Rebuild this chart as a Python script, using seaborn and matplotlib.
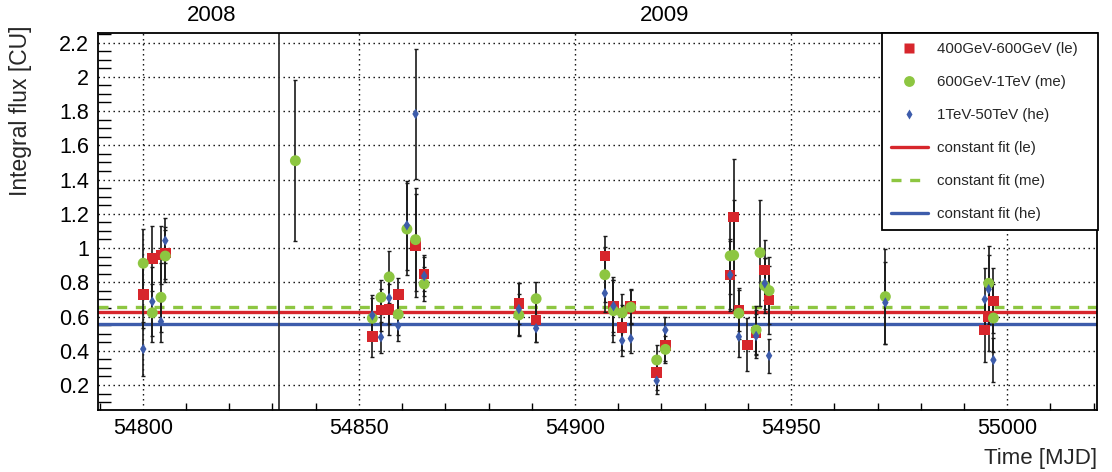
import numpy as np
import pandas as pd
import matplotlib
matplotlib.use("Agg")
import matplotlib.pyplot as plt
from matplotlib.lines import Line2D
from matplotlib.ticker import MultipleLocator, FuncFormatter
import seaborn as sns

nan = np.nan

# ---------------- data ----------------
mjd = [54800.1, 54802.2, 54804.2, 54805.2, 54835.3, 54853.1, 54855.1, 54857.0,
       54859.1, 54861.1, 54863.1, 54865.1, 54887.0, 54891.0, 54906.9, 54908.9,
       54910.9, 54912.9, 54918.9, 54920.9, 54935.9, 54936.7, 54937.9, 54939.9,
       54941.9, 54942.8, 54943.9, 54944.9, 54971.8, 54994.8, 54995.7, 54996.8]

flux_le = [0.730, 0.940, 0.960, 0.970, nan, 0.482, 0.638, 0.642,
           0.727, nan, 1.016, 0.848, 0.677, 0.580, 0.953, 0.661,
           0.537, 0.661, 0.272, 0.430, 0.843, 1.180, 0.634, 0.434,
           0.506, nan, 0.872, 0.696, nan, 0.521, 0.599, 0.691]
err_le = [0.20, 0.19, 0.17, 0.15, nan, 0.12, 0.12, 0.15,
          0.10, nan, 0.30, 0.10, 0.12, 0.13, 0.12, 0.17,
          0.13, 0.10, 0.10, 0.09, 0.21, 0.34, 0.12, 0.155,
          0.13, nan, 0.177, 0.20, nan, 0.185, 0.20, 0.19]

flux_me = [0.911, 0.622, 0.712, 0.953, 1.510, 0.590, 0.712, 0.831,
           0.613, 1.111, 1.049, 0.790, 0.609, 0.704, 0.844, 0.634,
           0.622, 0.654, 0.346, 0.408, 0.954, 0.958, 0.619, nan,
           0.521, 0.973, 0.780, 0.751, 0.716, nan, 0.794, 0.591]
err_me = [0.20, 0.17, 0.20, 0.15, 0.47, 0.12, 0.10, 0.15,
          0.12, 0.27, 0.30, 0.10, 0.12, 0.10, 0.16, 0.18,
          0.11, 0.10, 0.09, 0.08, 0.22, 0.32, 0.15, nan,
          0.14, 0.31, 0.16, 0.195, 0.278, nan, 0.218, 0.20]

flux_he = [0.410, 0.687, 0.570, 1.043, nan, 0.607, 0.479, 0.708,
           0.546, 1.133, 1.783, 0.837, 0.644, 0.531, 0.736, 0.661,
           0.459, 0.471, 0.225, 0.521, 0.843, nan, 0.482, nan,
           0.486, nan, 0.794, 0.371, 0.681, 0.700, 0.759, 0.346]
err_he = [0.16, 0.20, 0.12, 0.13, nan, 0.12, 0.09, 0.15,
          0.09, 0.26, 0.38, 0.12, 0.15, 0.08, 0.11, 0.15,
          0.09, 0.085, 0.075, 0.075, 0.20, nan, 0.12, nan,
          0.13, nan, 0.15, 0.10, 0.24, 0.185, 0.20, 0.13]

fit_le = 0.628
fit_me = 0.655
fit_he = 0.555

series_labels = ["400GeV-600GeV (le)", "600GeV-1TeV (me)", "1TeV-50TeV (he)"]
fit_labels = ["constant fit (le)", "constant fit (me)", "constant fit (he)"]
year_labels = ["2008", "2009"]
year_pos = [54816.0, 54920.8]
year_boundary = 54831.5

# ---------------- style ----------------
sns.set_theme(style="white")
plt.rcParams["font.family"] = ["Liberation Sans", "DejaVu Sans"]

RED = "#d7262c"
GREEN = "#8dc641"
BLUE = "#3d5cab"

W, H = 1112, 472
fig = plt.figure(figsize=(W / 100, H / 100), dpi=100)
ax = fig.add_axes([98.3 / W, (H - 410) / H, (1096.7 - 98.3) / W, (410 - 33.3) / H])

df = pd.DataFrame({"mjd": mjd, "le": flux_le, "le_err": err_le,
                   "me": flux_me, "me_err": err_me,
                   "he": flux_he, "he_err": err_he})

# fit lines
ax.axhline(fit_me, color=GREEN, lw=2.4, ls=(0, (3, 2.6)), zorder=2)
ax.axhline(fit_le, color=RED, lw=2.4, zorder=2)
ax.axhline(fit_he, color=BLUE, lw=2.4, zorder=2)

# error bars
for col in ["le", "me", "he"]:
    ax.errorbar(df["mjd"], df[col], yerr=df[col + "_err"], fmt="none",
                ecolor="#1a1a1a", elinewidth=1.2, capsize=1.6, capthick=1.0,
                zorder=3)

# markers
sns.scatterplot(data=df, x="mjd", y="le", marker="s", s=58, color=RED,
                edgecolor="none", linewidth=0, ax=ax, legend=False, zorder=4)
sns.scatterplot(data=df, x="mjd", y="me", marker="o", s=62, color=GREEN,
                edgecolor="none", linewidth=0, ax=ax, legend=False, zorder=5)
sns.scatterplot(data=df, x="mjd", y="he", marker="d", s=30, color=BLUE,
                edgecolor="none", linewidth=0, ax=ax, legend=False, zorder=6)

# year boundary
ax.axvline(year_boundary, color="#333333", lw=1.3, zorder=2.5)

ax.set_xlim(54789.7, 55020.7)
ax.set_ylim(0.054, 2.254)

ax.xaxis.set_major_locator(MultipleLocator(50))
ax.xaxis.set_minor_locator(MultipleLocator(10))
ax.yaxis.set_major_locator(MultipleLocator(0.2))
ax.yaxis.set_minor_locator(MultipleLocator(0.05))
ax.yaxis.set_major_formatter(FuncFormatter(lambda v, p: f"{v:g}"))
ax.xaxis.set_major_formatter(FuncFormatter(lambda v, p: f"{v:.0f}"))

ax.tick_params(axis="both", which="both", direction="in", colors="black",
               labelsize=15.5, top=False, right=False)
ax.tick_params(axis="y", which="major", length=18, width=1.2, pad=6.5)
ax.tick_params(axis="y", which="minor", length=9.5, width=1.0, left=True)
ax.tick_params(axis="x", which="major", length=11, width=1.2, pad=5.5)
ax.tick_params(axis="x", which="minor", length=5, width=1.0, bottom=True)

ax.grid(True, which="major", color="black", lw=1.0, ls=(0, (1, 2.6)))
ax.set_axisbelow(True)

for sp in ax.spines.values():
    sp.set_color("black")
    sp.set_linewidth(1.3)

ax.set_xlabel("Time [MJD]", fontsize=16, loc="right", labelpad=7)
ax.set_ylabel("Integral flux [CU]", fontsize=16.5, loc="top")
ax.yaxis.set_label_coords(-0.066, 1.02)

for lab, pos in zip(year_labels, year_pos):
    ax.text(pos, 1.0 + 18 / 376.7, lab, transform=ax.get_xaxis_transform(),
            ha="center", va="center", fontsize=16, color="black")

handles = [
    Line2D([], [], ls="none", marker="s", ms=7.5, color=RED, mec="none"),
    Line2D([], [], ls="none", marker="o", ms=7.8, color=GREEN, mec="none"),
    Line2D([], [], ls="none", marker="d", ms=5.6, color=BLUE, mec="none"),
    Line2D([], [], color=RED, lw=2.4),
    Line2D([], [], color=GREEN, lw=2.4, ls=(0, (3, 2.6))),
    Line2D([], [], color=BLUE, lw=2.4),
]
lx0 = (881.7 - 98.3) / 998.4
lw_ = (1097.7 - 881.7) / 998.4
leg = ax.legend(handles, series_labels + fit_labels, loc="upper left",
                bbox_to_anchor=(lx0, 0.0, lw_, 1.0), mode="expand",
                borderaxespad=0.0, fontsize=10.8,
                handlelength=2.5, handletextpad=0.6, borderpad=0.6,
                labelspacing=1.26, frameon=True, fancybox=False,
                framealpha=1.0, edgecolor="black", facecolor="white")
leg.get_frame().set_linewidth(1.3)
leg.set_zorder(10)

fig.savefig("out.png", dpi=100)
